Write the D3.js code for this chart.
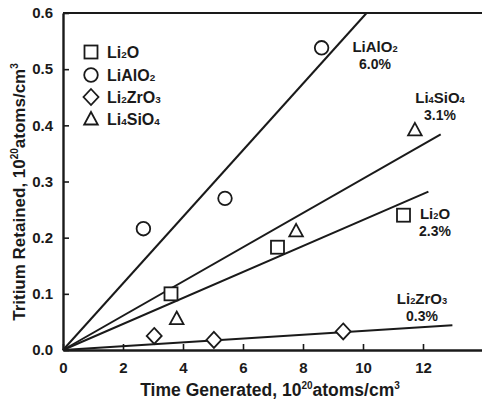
<!DOCTYPE html>
<html><head><meta charset="utf-8">
<script src="https://cdn.jsdelivr.net/npm/d3@7"></script>
<style>body{margin:0;background:#fff}svg{display:block}</style>
</head><body><svg id="c" width="482" height="406"></svg>
<script>
// ---- data ----
const materials = ["Li2O", "LiAlO2", "Li2ZrO3", "Li4SiO4"];
const symbols = ["square", "circle", "diamond", "triangle"];
const li2oX = [3.6, 7.15, 11.35], li2oY = [0.100, 0.183, 0.240];
const lialo2X = [2.68, 5.4, 8.62], lialo2Y = [0.216, 0.270, 0.538];
const li2zro3X = [3.04, 5.03, 9.34], li2zro3Y = [0.025, 0.018, 0.033];
const li4sio4X = [3.79, 7.77, 11.73], li4sio4Y = [0.056, 0.212, 0.392];
const fitEndX = [12.18, 10.12, 12.98, 12.59];
const fitEndY = [0.282, 0.600, 0.044, 0.384];
const fitPct = ["2.3%", "6.0%", "0.3%", "3.1%"];
const xTicks = [0, 2, 4, 6, 8, 10, 12];
const yTicks = [0.0, 0.1, 0.2, 0.3, 0.4, 0.5, 0.6];

const seriesX = [li2oX, lialo2X, li2zro3X, li4sio4X];
const seriesY = [li2oY, lialo2Y, li2zro3Y, li4sio4Y];

// ---- layout ----
const svg = d3.select("#c");
const ink = "#1a1a1a";
const font = "'Liberation Sans', Arial, Helvetica, sans-serif";
const x = d3.scaleLinear().domain([0, 14]).range([63, 483]);
const y = d3.scaleLinear().domain([0, 0.6]).range([350, 13]);

// chemical formula with small subscript digits
function formula(sel, name, size) {
  const parts = name.match(/[A-Za-z]+|\d+/g);
  parts.forEach(p => {
    const isNum = /\d/.test(p);
    sel.append("tspan").attr("font-size", isNum ? size * 0.62 : size).text(p);
  });
}

// fit lines
const g = svg.append("g");
materials.forEach((m, i) => {
  g.append("line")
    .attr("x1", x(0)).attr("y1", y(0))
    .attr("x2", x(fitEndX[i])).attr("y2", y(fitEndY[i]))
    .attr("stroke", ink).attr("stroke-width", 2);
});

// axes
const xAxis = d3.axisBottom(x).tickValues(xTicks).tickSizeInner(-6).tickSizeOuter(0).tickPadding(12)
  .tickFormat(d3.format("d"));
const yAxis = d3.axisLeft(y).tickValues(yTicks).tickSizeInner(-6).tickSizeOuter(0).tickPadding(10)
  .tickFormat(d3.format(".1f"));
const gx = svg.append("g").attr("transform", `translate(0,${y(0)})`).call(xAxis);
const gy = svg.append("g").attr("transform", `translate(${x(0)},0)`).call(yAxis);
[gx, gy].forEach(a => {
  a.select(".domain").attr("stroke", ink).attr("stroke-width", 2.4);
  a.selectAll(".tick line").attr("stroke", ink).attr("stroke-width", 1.6);
  a.selectAll(".tick text").attr("fill", ink).attr("font-family", font)
    .attr("font-size", 15).attr("font-weight", "bold");
});
// top border
svg.append("line").attr("x1", x(0)).attr("x2", 482).attr("y1", y(0.6)).attr("y2", y(0.6))
  .attr("stroke", ink).attr("stroke-width", 2);

// markers
function drawSym(sel, type, cx, cy) {
  let el;
  if (type === "square") {
    el = sel.append("rect").attr("x", cx - 6.5).attr("y", cy - 6.5).attr("width", 13).attr("height", 13);
  } else if (type === "circle") {
    el = sel.append("circle").attr("cx", cx).attr("cy", cy).attr("r", 6.8);
  } else if (type === "diamond") {
    el = sel.append("path").attr("d", `M${cx},${cy - 8}L${cx + 7.5},${cy}L${cx},${cy + 8}L${cx - 7.5},${cy}Z`);
  } else {
    el = sel.append("path").attr("d", `M${cx},${cy - 7}L${cx + 6.8},${cy + 5.5}L${cx - 6.8},${cy + 5.5}Z`);
  }
  el.attr("fill", "#fff").attr("stroke", ink).attr("stroke-width", 1.8);
}
materials.forEach((m, i) => {
  seriesX[i].forEach((v, j) => drawSym(svg, symbols[i], x(v), y(seriesY[i][j])));
});

// legend
const legY = [52, 75, 97, 119];
materials.forEach((m, i) => {
  drawSym(svg, symbols[i], 91, legY[i]);
  const t = svg.append("text").attr("x", 107).attr("y", legY[i] + 6)
    .attr("font-family", font).attr("font-weight", "bold").attr("fill", ink);
  formula(t, m, 16);
});

// annotations
const annX = [435, 375, 422, 440];
const annY = [219, 52, 304, 103];
materials.forEach((m, i) => {
  const t = svg.append("text").attr("x", annX[i]).attr("y", annY[i]).attr("text-anchor", "middle")
    .attr("font-family", font).attr("font-weight", "bold").attr("fill", ink);
  formula(t, m, 15);
  svg.append("text").attr("x", annX[i]).attr("y", annY[i] + 17).attr("text-anchor", "middle")
    .attr("font-family", font).attr("font-weight", "bold").attr("font-size", 14).attr("fill", ink)
    .text(fitPct[i]);
});

// axis titles
function unitTitle(t, label) {
  t.append("tspan").text(label + ", 10");
  t.append("tspan").attr("font-size", 10).attr("dy", -7).text("20");
  t.append("tspan").attr("dy", 7).text("atoms/cm");
  t.append("tspan").attr("font-size", 10).attr("dy", -7).text("3");
}
const xt = svg.append("text").attr("x", 270).attr("y", 396).attr("text-anchor", "middle")
  .attr("font-family", font).attr("font-weight", "bold").attr("font-size", 17.5).attr("fill", ink);
unitTitle(xt, "Time Generated");
const yt = svg.append("text").attr("transform", "translate(25,192) rotate(-90)").attr("text-anchor", "middle")
  .attr("font-family", font).attr("font-weight", "bold").attr("font-size", 17).attr("fill", ink);
unitTitle(yt, "Tritium Retained");
</script></body></html>
